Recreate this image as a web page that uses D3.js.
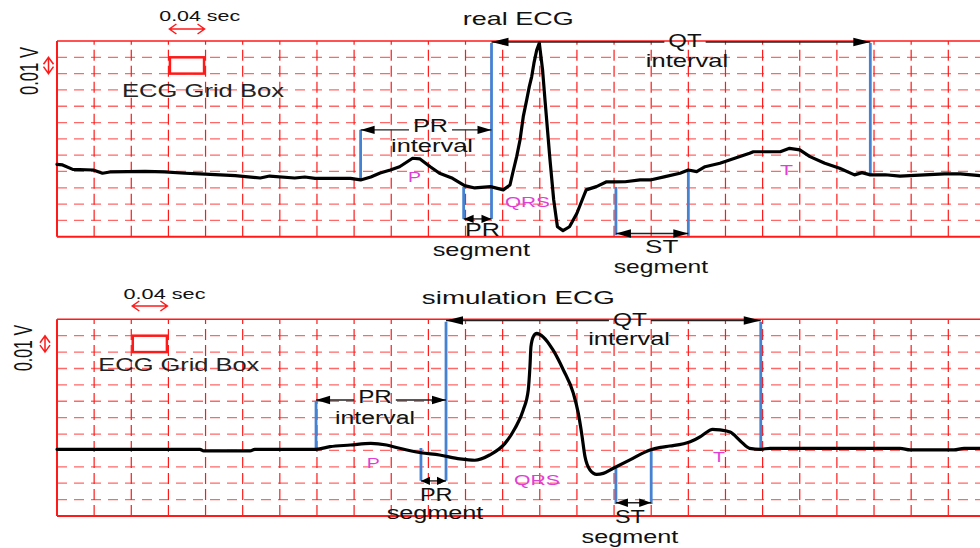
<!DOCTYPE html>
<html>
<head>
<meta charset="utf-8">
<script src="https://cdn.jsdelivr.net/npm/d3@7"></script>
<style>
  html, body { margin: 0; padding: 0; background: #fff; }
  svg { display: block; }
</style>
</head>
<body>
<svg id="chart" width="980" height="548"></svg>
<script>
// ---- Recorded ECG: time (s) and voltage (mV above the lower frame edge) ----
const realTime = [0.000, 0.006, 0.017, 0.039, 0.049, 0.057, 0.095, 0.116, 0.138, 0.154,
  0.192, 0.219, 0.229, 0.256, 0.267, 0.278, 0.294, 0.316, 0.327, 0.338,
  0.348, 0.359, 0.369, 0.383, 0.391, 0.402, 0.412, 0.426, 0.439, 0.450,
  0.467, 0.4807, 0.4879, 0.4908, 0.4951, 0.4987, 0.5022, 0.5059, 0.5087, 0.5113,
  0.5137, 0.5167, 0.5195, 0.5230, 0.5256, 0.531, 0.535, 0.539, 0.545, 0.552,
  0.560, 0.567, 0.570, 0.581, 0.592, 0.601, 0.612, 0.628, 0.639, 0.655,
  0.671, 0.680, 0.689, 0.698, 0.714, 0.730, 0.746, 0.750, 0.779, 0.789,
  0.800, 0.811, 0.827, 0.843, 0.859, 0.867, 0.876, 0.892, 0.908, 0.929,
  0.956, 0.973, 0.994];
const realVolt = [44.4, 44.0, 41.3, 40.9, 38.9, 39.7, 40.1, 39.7, 38.9, 38.5,
  37.4, 36.0, 37.2, 36.0, 36.6, 35.8, 35.8, 35.8, 34.8, 36.6,
  39.1, 40.9, 42.9, 48.1, 47.7, 42.9, 38.9, 35.8, 31.3, 29.9,
  30.7, 28.7, 31.7, 38.9, 49.1, 59.3, 73.6, 83.9, 92.0, 98.2,
  106.4, 114.5, 118.7, 102.3, 83.9, 47.1, 22.5, 6.1, 3.7, 6.1,
  14.4, 24.5, 28.7, 30.7, 33.7, 33.6, 33.7, 34.8, 34.8, 36.8,
  38.9, 40.9, 39.9, 42.9, 45.0, 48.1, 51.2, 52.1, 52.1, 54.2,
  53.2, 49.1, 45.0, 42.0, 37.9, 39.3, 37.9, 38.0, 37.2, 37.7,
  38.5, 38.5, 37.4];

// ---- Simulated ECG ----
const simTime = [0.000, 0.154, 0.158, 0.208, 0.213, 0.279, 0.294, 0.316, 0.338, 0.355,
  0.369, 0.392, 0.412, 0.434, 0.450, 0.466, 0.4825, 0.4933, 0.5022, 0.5076,
  0.5094, 0.5105, 0.5130, 0.5167, 0.5234, 0.5342, 0.5454, 0.5562, 0.5615, 0.5651,
  0.5687, 0.5741, 0.5813, 0.5884, 0.5992, 0.6171, 0.6387, 0.650, 0.660, 0.682,
  0.693, 0.698, 0.706, 0.714, 0.725, 0.736, 0.746, 0.758, 0.768, 0.908,
  0.919, 0.966, 0.977, 0.994];
const simVolt = [40.7, 40.7, 39.7, 39.7, 40.7, 40.7, 42.3, 43.3, 44.3, 43.3,
  41.3, 38.6, 37.2, 34.8, 34.0, 37.2, 44.3, 53.5, 64.7, 76.9,
  91.1, 103.3, 109.4, 111.4, 109.4, 101.3, 89.1, 74.8, 62.6, 50.4,
  36.2, 28.1, 25.4, 26.0, 29.1, 34.2, 40.3, 41.9, 42.7, 45.3,
  48.4, 50.4, 52.9, 52.5, 51.2, 45.8, 41.3, 40.7, 41.3, 41.3,
  40.3, 40.3, 41.3, 41.3];

// ---- Grid: one box = 0.04 s by 10 mV (0.01 V) ----
const gridSeconds = 0.04;
const gridMillivolts = 10;
const timeSpan = [0, 0.96];
const voltSpan = [0, 120];

// ---- Wave boundaries: time (s) and the voltage span of each marker ----
const realMarkers = [
  { t: 0.327, from: 65.5, to: 34.8 },
  { t: 0.468, from: 118.8, to: 10.9 },
  { t: 0.438, from: 30.5, to: 10.9 },
  { t: 0.602, from: 30.5, to: 1.0 },
  { t: 0.680, from: 40.9, to: 0.4 },
  { t: 0.876, from: 118.8, to: 37.9 }
];
const simMarkers = [
  { t: 0.279, from: 70.3, to: 40.7 },
  { t: 0.419, from: 118.5, to: 21.5 },
  { t: 0.392, from: 41.5, to: 21.5 },
  { t: 0.602, from: 29.3, to: 7.3 },
  { t: 0.640, from: 40.9, to: 7.3 },
  { t: 0.758, from: 118.5, to: 40.7 }
];

// ---- Interval arrows: start / end time and the voltage they sit at ----
const realArrows = [
  { name: 'PR interval', t1: 0.327, t2: 0.468, v: 65.5, note: 0 },
  { name: 'QT interval', t1: 0.468, t2: 0.876, v: 119.4, note: 2 },
  { name: 'PR segment', t1: 0.438, t2: 0.468, v: 10.9 },
  { name: 'ST segment', t1: 0.602, t2: 0.680, v: 2.0 }
];
const simArrows = [
  { name: 'PR interval', t1: 0.279, t2: 0.419, v: 70.8, note: 0 },
  { name: 'QT interval', t1: 0.419, t2: 0.758, v: 119.3, note: 2 },
  { name: 'PR segment', t1: 0.392, t2: 0.419, v: 21.4 },
  { name: 'ST segment', t1: 0.602, t2: 0.640, v: 8.1 }
];

// ---- Annotation text anchored in time / voltage ----
const realNotes = [
  { text: 'PR', t: 0.4023, v: 64.0 },
  { text: 'interval', t: 0.4039, v: 52.1 },
  { text: 'QT', t: 0.6764, v: 116.6 },
  { text: 'interval', t: 0.6785, v: 104.3 },
  { text: 'P', t: 0.3850, v: 33.4, wave: true },
  { text: 'QRS', t: 0.5067, v: 18.4, wave: true },
  { text: 'T', t: 0.7857, v: 37.9, wave: true },
  { text: 'PR', t: 0.4583, v: 0.6 },
  { text: 'segment', t: 0.4570, v: -12.1 },
  { text: 'ST', t: 0.6513, v: -10.2 },
  { text: 'segment', t: 0.6505, v: -22.5 }
];
const simNotes = [
  { text: 'PR', t: 0.3425, v: 69.1 },
  { text: 'interval', t: 0.3425, v: 56.1 },
  { text: 'QT', t: 0.6171, v: 116.1 },
  { text: 'interval', t: 0.6161, v: 104.3 },
  { text: 'P', t: 0.3407, v: 29.1, wave: true },
  { text: 'QRS', t: 0.5170, v: 18.9, wave: true },
  { text: 'T', t: 0.7130, v: 33.1, wave: true },
  { text: 'PR', t: 0.4085, v: 9.3 },
  { text: 'segment', t: 0.4071, v: -2.0 },
  { text: 'ST', t: 0.6171, v: -4.5 },
  { text: 'segment', t: 0.6171, v: -16.7 }
];

const panelTitles = ['real ECG', 'simulation ECG'];
const scaleText = '0.04 sec';
const voltText = '0.01 V';
const boxText = 'ECG Grid Box';

// ================= drawing =================
const W = 980;
const FONT = '"Liberation Sans", Arial, Helvetica, sans-serif';
const RED = '#ff1a1a';
const BLUE = '#4682d2';
const MAGENTA = '#e03fd6';
const INK = '#111';

const svg = d3.select('#chart');
const x = d3.scaleLinear().domain(timeSpan).range([57, 948.3]);

// Glyphs in this figure are drawn wide: each string is stretched
// horizontally about its centre to its rendered width.
function txt(g, s, cx, by, size, width, fill) {
  const t = g.append('text')
    .attr('x', 0).attr('y', 0)
    .attr('text-anchor', 'middle')
    .attr('font-family', FONT)
    .attr('font-size', size)
    .attr('fill', fill)
    .text(s);
  const natural = t.node().getComputedTextLength() || width;
  t.attr('transform', `translate(${cx},${by}) scale(${width / natural},1)`);
  return t;
}

const panels = [
  {
    title: panelTitles[0], top: 41, bottom: 236.7,
    time: realTime, volt: realVolt, curve: d3.curveLinear,
    markers: realMarkers, arrows: realArrows, notes: realNotes,
    noteWidths: [35, 82, 33.3, 82.3, 13, 45, 13, 35, 97.3, 33.3, 94.3],
    heads: { 'PR interval': 14, 'QT interval': 17, 'PR segment': 10, 'ST segment': 15 },
    boxCol: 3,
    titleY: 25, titleW: 111, titleSize: 17.5,
    secX: 199.7, secY: 21, secW: 81, secArrowY: 29,
    voltX: 38.3, voltY: 71, voltLen: 48, voltArrowX: 48.5,
    boxTextX: 203, boxTextY: 96.7, boxTextW: 162
  },
  {
    title: panelTitles[1], top: 319.3, bottom: 516,
    time: simTime, volt: simVolt, curve: d3.curveMonotoneX,
    markers: simMarkers, arrows: simArrows, notes: simNotes,
    noteWidths: [33.7, 80, 34, 81.7, 13, 46, 12, 32.7, 96.7, 30, 96.7],
    heads: { 'PR interval': 14, 'QT interval': 17, 'PR segment': 9, 'ST segment': 12 },
    boxCol: 2,
    titleY: 304, titleW: 193, titleSize: 18,
    secX: 164.5, secY: 299, secW: 82, secArrowY: 306,
    voltX: 31.7, voltY: 348, voltLen: 46, voltArrowX: 45,
    boxTextX: 178.8, boxTextY: 370.7, boxTextW: 161
  }
];

panels.forEach(p => {
  const y = d3.scaleLinear().domain(voltSpan).range([p.bottom, p.top]);
  const g = svg.append('g');

  // horizontal grid (dashed)
  const hVals = d3.range(gridMillivolts, voltSpan[1], gridMillivolts);
  g.append('g').selectAll('line').data(hVals).join('line')
    .attr('x1', x(0)).attr('x2', W)
    .attr('y1', d => y(d)).attr('y2', d => y(d))
    .attr('stroke', '#ff4d4d').attr('stroke-width', 1.3)
    .attr('stroke-opacity', 0.85)
    .attr('stroke-dasharray', '10,7');

  // vertical grid (dashed)
  const nCols = Math.round((timeSpan[1] - timeSpan[0]) / gridSeconds);
  const vVals = d3.range(1, nCols + 1).map(k => k * gridSeconds);
  g.append('g').selectAll('line').data(vVals).join('line')
    .attr('x1', d => x(d)).attr('x2', d => x(d))
    .attr('y1', y(voltSpan[0])).attr('y2', y(voltSpan[1]))
    .attr('stroke', RED).attr('stroke-width', 1.2)
    .attr('stroke-dasharray', '11,5');

  // frame: top, bottom, left
  g.append('line').attr('x1', x(0)).attr('x2', W)
    .attr('y1', y(voltSpan[1])).attr('y2', y(voltSpan[1]))
    .attr('stroke', RED).attr('stroke-width', 1.6);
  g.append('line').attr('x1', x(0)).attr('x2', W)
    .attr('y1', y(voltSpan[0])).attr('y2', y(voltSpan[0]))
    .attr('stroke', RED).attr('stroke-width', 2);
  g.append('line').attr('x1', x(0)).attr('x2', x(0))
    .attr('y1', y(voltSpan[1])).attr('y2', y(voltSpan[0]))
    .attr('stroke', RED).attr('stroke-width', 2);

  // reference grid box and its scale arrows
  const c0 = p.boxCol * gridSeconds, c1 = c0 + gridSeconds;
  const vb0 = voltSpan[1] - 2 * gridMillivolts, vb1 = voltSpan[1] - gridMillivolts;
  g.append('rect')
    .attr('x', x(c0) + 1.5).attr('y', y(vb1))
    .attr('width', x(c1) - x(c0) - 3).attr('height', y(vb0) - y(vb1))
    .attr('fill', 'none').attr('stroke', RED).attr('stroke-width', 2.5);

  const ax0 = x(c0) + 1, ax1 = x(c1) - 1, ay = p.secArrowY;
  g.append('path')
    .attr('d', `M${ax0},${ay}H${ax1}M${ax0 + 7},${ay - 5}L${ax0},${ay}L${ax0 + 7},${ay + 5}M${ax1 - 7},${ay - 5}L${ax1},${ay}L${ax1 - 7},${ay + 5}`)
    .attr('fill', 'none').attr('stroke', RED).attr('stroke-width', 1.5);
  const vx = p.voltArrowX, vy0 = y(vb1), vy1 = y(vb0);
  g.append('path')
    .attr('d', `M${vx},${vy0}V${vy1}M${vx - 5},${vy0 + 7}L${vx},${vy0}L${vx + 5},${vy0 + 7}M${vx - 5},${vy1 - 7}L${vx},${vy1}L${vx + 5},${vy1 - 7}`)
    .attr('fill', 'none').attr('stroke', RED).attr('stroke-width', 1.5);

  txt(g, scaleText, p.secX, p.secY, 14.5, p.secW, INK);
  txt(g, boxText, p.boxTextX, p.boxTextY, 18.5, p.boxTextW, '#222');

  // rotated voltage caption, its glyphs widened like the rest of the text
  const vt = g.append('text')
    .attr('x', 0).attr('y', 0)
    .attr('text-anchor', 'middle')
    .attr('font-family', FONT).attr('font-size', 17)
    .attr('fill', INK)
    .text(voltText);
  const vNat = vt.node().getComputedTextLength() || p.voltLen;
  vt.attr('transform', `translate(${p.voltX},${p.voltY}) scale(1.55,${p.voltLen / vNat}) rotate(-90)`);

  // title
  txt(g, p.title, 518.3, p.titleY, p.titleSize, p.titleW, INK);

  // wave boundary markers
  g.append('g').selectAll('line').data(p.markers).join('line')
    .attr('x1', d => x(d.t)).attr('x2', d => x(d.t))
    .attr('y1', d => y(d.from)).attr('y2', d => y(d.to))
    .attr('stroke', BLUE).attr('stroke-width', 2.8);

  // ECG trace
  const line = d3.line()
    .x((d, i) => x(p.time[i]))
    .y(d => y(d))
    .curve(p.curve);
  g.append('path')
    .attr('d', line(p.volt))
    .attr('fill', 'none').attr('stroke', '#000')
    .attr('stroke-width', 3.2)
    .attr('stroke-linejoin', 'round').attr('stroke-linecap', 'round');

  // interval arrows
  p.arrows.forEach(a => {
    const x1 = x(a.t1), x2 = x(a.t2), ya = y(a.v);
    const head = p.heads[a.name], half = 4.2;
    let segs = [[x1, x2]];
    if (a.note !== undefined) {
      const n = p.notes[a.note];
      const cx = x(n.t), hw = p.noteWidths[a.note] / 2 + 4;
      segs = [[x1, cx - hw], [cx + hw, x2]];
    }
    segs.forEach(s => {
      g.append('line').attr('x1', s[0]).attr('x2', s[1])
        .attr('y1', ya).attr('y2', ya)
        .attr('stroke', '#222').attr('stroke-width', 1.4);
    });
    g.append('path')
      .attr('d', `M${x1},${ya}L${x1 + head},${ya - half}L${x1 + head},${ya + half}Z`)
      .attr('fill', '#000');
    g.append('path')
      .attr('d', `M${x2},${ya}L${x2 - head},${ya - half}L${x2 - head},${ya + half}Z`)
      .attr('fill', '#000');
  });

  // annotation labels
  p.notes.forEach((n, i) => {
    txt(g, n.text, x(n.t), y(n.v), n.wave ? 14 : 17.5, p.noteWidths[i], n.wave ? MAGENTA : INK);
  });
});
</script>
</body>
</html>
